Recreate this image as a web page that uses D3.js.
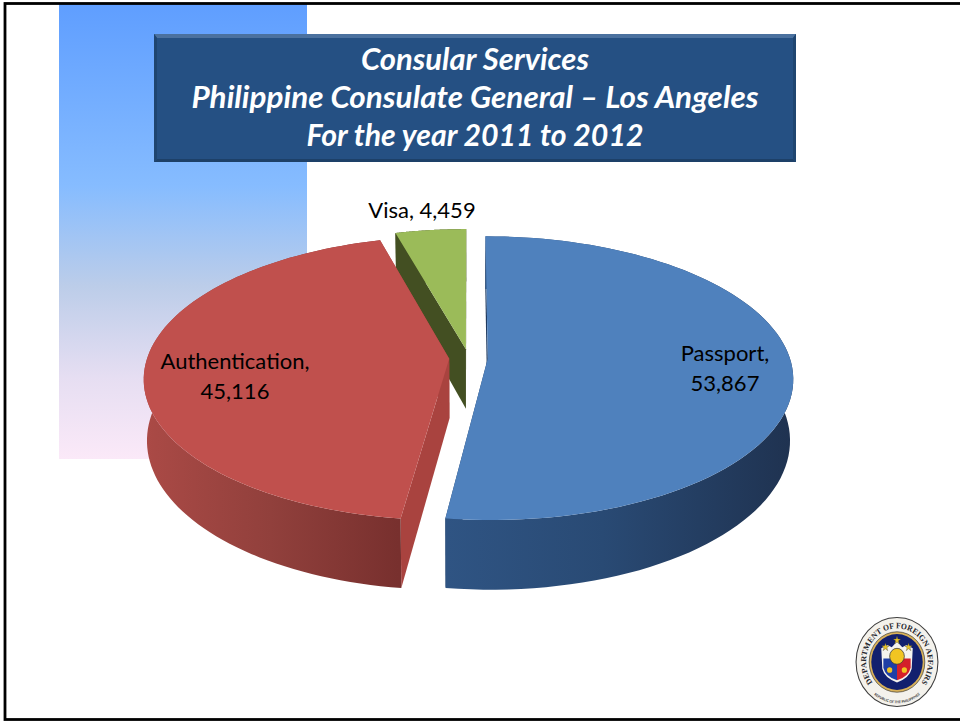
<!DOCTYPE html>
<html><head><meta charset="utf-8">
<script src="https://cdn.jsdelivr.net/npm/d3@7"></script>
<style>html,body{margin:0;padding:0;background:#fff}svg{display:block}text{font-family:Lato,"Open Sans",sans-serif}</style>
</head><body><svg id="c" width="960" height="721"></svg>
<script>
const categories = ["Passport", "Authentication", "Visa"];
const values = [53867, 45116, 4459];
const valueLabels = ["53,867", "45,116", "4,459"];
const titleLines = ["Consular Services", "Philippine Consulate General – Los Angeles", "For the year 2011 to 2012"];

const svg = d3.select("#c");
const defs = svg.append("defs");

function grad(id, x1, y1, x2, y2, stops){
  const g = defs.append("linearGradient").attr("id", id).attr("gradientUnits","userSpaceOnUse")
    .attr("x1",x1).attr("y1",y1).attr("x2",x2).attr("y2",y2);
  stops.forEach(s => g.append("stop").attr("offset",s[0]).attr("stop-color",s[1]));
}
grad("bg",0,4,0,459,[[0,"#5f9eff"],[0.4,"#86bcff"],[0.62,"#bccde9"],[0.82,"#e6def2"],[1,"#fbe9f8"]]);
grad("wall0",447,0,794,0,[[0,"#2f5483"],[0.45,"#294a74"],[1,"#1f3250"]]);
grad("wall1",143,0,398,0,[[0,"#ab4a46"],[0.5,"#91403c"],[1,"#78302e"]]);
grad("wall2",398,0,466,0,[[0,"#434f22"],[1,"#434f22"]]);

// backdrop panel
svg.append("rect").attr("x",59).attr("y",4).attr("width",248).attr("height",455).attr("fill","url(#bg)");

// 3-D projected pie
const cx = 468.5, cy = 358, rx = 302, ry = 139, persp = 0.138, depth = 60, explode = 0.064, shrink = 0.99;
const xScale = d3.scaleLinear().domain([-1,1]).range([cx-rx,cx+rx]);
const yScale = d3.scaleLinear().domain([-1,1]).range([cy+ry,cy-ry]);
function project(u,v,bottom){
  const s = 1/(1+persp*v);
  let x = cx + (xScale(u)-cx)*s, y = cy + (yScale(v)-cy)*s;
  if(bottom){ x = cx + (x-cx)*shrink; y += depth*s; }
  return [x,y];
}
const arcs = d3.pie().sort(null).startAngle(0).endAngle(2*Math.PI)(values);
const line = d3.line();
const topFill = ["#4f81bd","#c0504d","#9bbb59"];
const cutFill = ["#1f3a5f","#a9433f","#434f22"];
const order = [2,0,1];
const g = svg.append("g");
order.forEach(i=>{
  const a = arcs[i], mid=(a.startAngle+a.endAngle)/2;
  const ox = explode*Math.sin(mid), oy = explode*Math.cos(mid);
  const n = 90;
  const angles = d3.range(n+1).map(k=>a.startAngle+(a.endAngle-a.startAngle)*k/n);
  const rim = b => angles.map(t=>project(ox+Math.sin(t),oy+Math.cos(t),b));
  const apex = b => project(ox,oy,b);
  const topRim = rim(false), botRim = rim(true);
  [0,n].forEach(k=>{
    g.append("path").attr("d",line([apex(false),topRim[k],botRim[k],apex(true)])+"Z").attr("fill",cutFill[i]);
  });
  g.append("path").attr("d",line(topRim.concat(botRim.slice().reverse()))+"Z").attr("fill",`url(#wall${i})`);
  g.append("path").attr("d",line([apex(false)].concat(topRim))+"Z").attr("fill",topFill[i]);
});

// title box
const box = {x:154,y:34,w:642,h:128};
const titleWidths = [228,567,337];
svg.append("rect").attr("x",box.x).attr("y",box.y).attr("width",box.w).attr("height",box.h).attr("fill","#255083");
svg.append("path").attr("d",`M${box.x},${box.y}H${box.x+box.w}L${box.x+box.w-3},${box.y+4}H${box.x+3}Z`).attr("fill","#4b719f");
svg.append("path").attr("d",`M${box.x},${box.y+box.h}H${box.x+box.w}L${box.x+box.w-3},${box.y+box.h-3}H${box.x+3}Z`).attr("fill","#1d4068");
svg.append("path").attr("d",`M${box.x},${box.y}V${box.y+box.h}L${box.x+3},${box.y+box.h-3}V${box.y+4}Z`).attr("fill","#1f4570");
svg.append("path").attr("d",`M${box.x+box.w},${box.y}V${box.y+box.h}L${box.x+box.w-3},${box.y+box.h-3}V${box.y+4}Z`).attr("fill","#1f4570");
svg.selectAll("text.title").data(titleLines).join("text").attr("class","title")
  .attr("x",475).attr("y",(d,i)=>70+i*38.2).attr("text-anchor","middle")
  .attr("textLength",(d,i)=>titleWidths[i]).attr("lengthAdjust","spacingAndGlyphs")
  .attr("font-size",31.4).attr("font-weight",700).attr("font-style","italic").attr("fill","#fff").text(d=>d);

// data labels
const labelPos = [[725,361,391],[235,369,399]];
[0,1].forEach(i=>{
  const p = labelPos[i];
  svg.append("text").attr("x",p[0]).attr("y",p[1]).attr("text-anchor","middle").attr("font-size",22).attr("fill","#000").text(categories[i]+",");
  svg.append("text").attr("x",p[0]).attr("y",p[2]).attr("text-anchor","middle").attr("font-size",22).attr("fill","#000").text(valueLabels[i]);
});
svg.append("text").attr("x",422).attr("y",218).attr("text-anchor","middle").attr("font-size",22).attr("fill","#000").text(categories[2]+", "+valueLabels[2]);

// seal
const seal = svg.append("g").attr("transform","translate(897,662) scale(1.05,1.14)");
seal.append("circle").attr("r",39).attr("fill","#f4f2ec").attr("stroke","#3d3d3d").attr("stroke-width",1);
seal.append("circle").attr("r",26.5).attr("fill","#d9b25a").attr("stroke","#333").attr("stroke-width",0.6);
seal.append("circle").attr("r",24.5).attr("fill","#12206e");
const textR = 29.5, sealSpan = 2.25, sx = textR*Math.sin(sealSpan), sy = -textR*Math.cos(sealSpan);
defs.append("path").attr("id","sealTop").attr("d",`M${-sx},${sy} A${textR},${textR} 0 1 1 ${sx},${sy}`);
defs.append("path").attr("id","sealBot").attr("d","M-22,28.5 A35,35 0 0 0 22,28.5");
seal.append("text").append("textPath").attr("href","#sealTop").attr("startOffset","50%").attr("text-anchor","middle")
  .style("font-family","'Liberation Serif',serif").attr("font-size",7.3).attr("font-weight",700).attr("fill","#26262e")
  .text("DEPARTMENT OF FOREIGN AFFAIRS");
seal.append("text").append("textPath").attr("href","#sealBot").attr("startOffset","50%").attr("text-anchor","middle")
  .attr("font-size",3.2).attr("font-weight",700).attr("fill","#333").text("REPUBLIC OF THE PHILIPPINES");
seal.append("path").attr("d","M-15,-12 L-9,-15 L-5,-13 L0,-18 L5,-13 L9,-15 L15,-12 L14,6 Q12,14 0,18 Q-12,14 -14,6Z").attr("fill","#f5f3ee");
seal.append("path").attr("d","M-13,-3 H0 V16 Q-11,13 -13,5Z").attr("fill","#1f3fa6");
seal.append("path").attr("d","M13,-3 H0 V16 Q11,13 13,5Z").attr("fill","#d4202a");
seal.append("circle").attr("cy",-5).attr("r",7).attr("fill","#f2c522").attr("stroke","#3a3a3a").attr("stroke-width",0.7);
seal.append("circle").attr("cx",-7).attr("cy",7).attr("r",2.5).attr("fill","#f2c522");
seal.append("circle").attr("cx",7).attr("cy",7).attr("r",2.5).attr("fill","#f2c522");
[[-11,-13],[0,-19],[11,-13]].forEach(p=>seal.append("path").attr("transform",`translate(${p[0]},${p[1]})`)
  .attr("d",d3.symbol(d3.symbolStar,16)()).attr("fill","#e9c52a").attr("stroke","#333").attr("stroke-width",0.3));

// slide frame
svg.append("rect").attr("x",5).attr("y",3.5).attr("width",960).attr("height",716).attr("fill","none").attr("stroke","#000").attr("stroke-width",2.8);
</script></body></html>
